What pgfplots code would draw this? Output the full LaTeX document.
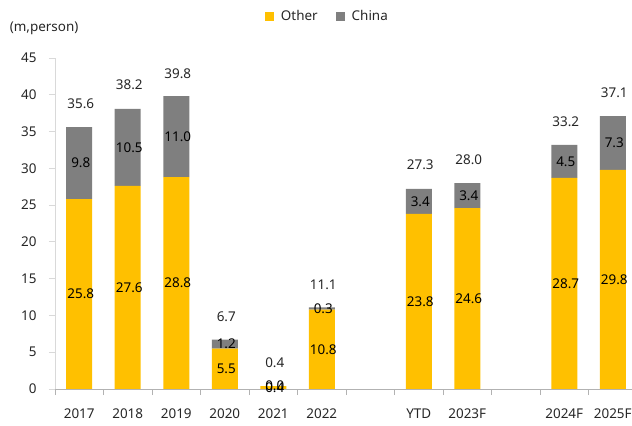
\documentclass[border=0pt]{standalone}
\usepackage{pgfplots}
\pgfplotsset{compat=1.18}
\usepackage{pgfplotstable}
\usepackage{fontspec}
\setmainfont{Noto Sans}
\definecolor{cyel}{HTML}{FFC000}
\definecolor{cgray}{HTML}{7F7F7F}
\definecolor{ctxt}{HTML}{262626}
\pgfplotstableread{
x other china total
0 25.8 9.8 35.6
1 27.6 10.5 38.2
2 28.8 11.0 39.8
3 5.5 1.2 6.7
4 0.4 0.0 0.4
5 10.8 0.3 11.1
7 23.8 3.4 27.3
8 24.6 3.4 28.0
10 28.7 4.5 33.2
11 29.8 7.3 37.1
}\data
\pgfplotsset{
  common/.style={
    at={(0,0)}, anchor=south west,
    scale only axis, width=582bp, height=331bp,
    xmin=-0.5, xmax=11.5, ymin=0, ymax=45,
    /pgf/number format/assume math mode=true,
  },
  lab/.style={
    only marks, mark=none, point meta=explicit,
    nodes near coords={\pgfmathprintnumber[fixed,fixed zerofill,precision=1,assume math mode=true]{\pgfplotspointmeta}},
    every node near coord/.append style={font=\fontsize{13.5}{15}\selectfont, text=black, anchor=center, xshift=1.5bp},
  },
}
\begin{document}
\begin{tikzpicture}
\path[use as bounding box] (-55bp,-37bp) rectangle (577bp,389bp);
\begin{axis}[
  common,
  ybar stacked, bar width=26bp,
  axis x line*=bottom, axis y line*=left,
  x axis line style={draw=gray!60, line width=0.8pt, -},
  y axis line style={draw=gray!30, line width=0.8pt, -},
  xtick={-0.5,0.5,...,11.5},
  x tick label as interval,
  xticklabels={2017,2018,2019,2020,2021,2022,{},YTD,2023F,{},2024F,2025F},
  ytick={0,5,...,45},
  tick align=outside, major tick length=6bp,
  x tick style={draw=gray!60, line width=0.8pt},
  y tick style={draw=gray!30, line width=0.8pt},
  tick label style={font=\fontsize{13.5}{15}\selectfont, text=ctxt},
  x tick label style={yshift=-10bp},
  y tick label style={xshift=-9bp},
  ylabel={(m,person)},
  ylabel style={rotate=-90, at={(axis description cs:-0.078,1.091)}, anchor=west, font=\fontsize{13.5}{15}\selectfont, text=ctxt, inner sep=0pt},
  legend columns=2,
  legend style={draw=none, fill=none, at={(axis description cs:0.468,1.125)}, anchor=center,
    font=\fontsize{13.5}{15}\selectfont, text=ctxt,
    /tikz/every odd column/.append style={column sep=5bp},
    /tikz/every even column/.append style={column sep=16bp}},
  legend image code/.code={\fill[#1] (0bp,-4.5bp) rectangle (9bp,4.5bp);},
]
\addplot[fill=cyel, draw=none] table[x=x, y=other]{\data};
\addplot[fill=cgray, draw=none] table[x=x, y=china]{\data};
\legend{Other, China}
\end{axis}
\begin{axis}[common, hide axis, clip=false]
\addplot[lab] table[x=x, y expr=\thisrow{other}/2, meta=other]{\data};
\addplot[lab] table[x=x, y expr=\thisrow{other}+\thisrow{china}/2, meta=china]{\data};
\addplot[lab, every node near coord/.append style={yshift=23bp, text=ctxt}] table[x=x, y=total, meta=total]{\data};
\end{axis}
\end{tikzpicture}
\end{document}
